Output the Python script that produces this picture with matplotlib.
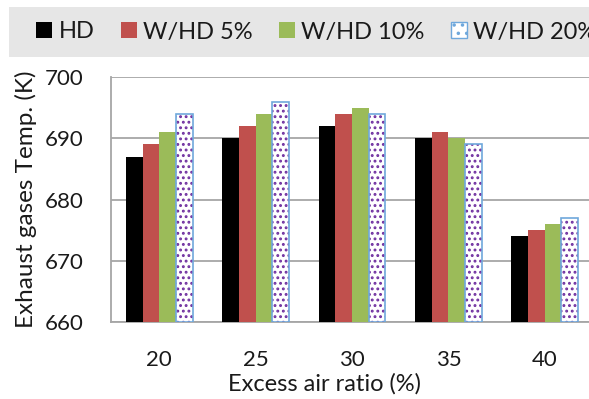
import matplotlib.pyplot as plt
from matplotlib.patches import Rectangle
import numpy as np

plt.rcParams['font.family'] = ['Lato', 'DejaVu Sans']
plt.rcParams['hatch.linewidth'] = 1.3

ratios = ["20", "25", "30", "35", "40"]
series = ["HD", "W/HD 5%", "W/HD 10%", "W/HD 20%"]
hd = [687, 690, 692, 690, 674]
whd5 = [689, 692, 694, 691, 675]
whd10 = [691, 694, 695, 690, 676]
whd20 = [694, 696, 694, 689, 677]

fig = plt.figure(figsize=(5.89, 3.99), dpi=100)
ax = fig.add_axes([111 / 589, 1 - 322 / 399, 482 / 589, 245 / 399])

x = np.arange(len(ratios))
w = 0.173
base = 660

ax.bar(x - 1.5 * w, np.array(hd) - base, w, bottom=base, color="#000000",
       zorder=3, label=series[0])
ax.bar(x - 0.5 * w, np.array(whd5) - base, w, bottom=base, color="#c0504d",
       zorder=3, label=series[1])
ax.bar(x + 0.5 * w, np.array(whd10) - base, w, bottom=base, color="#9bbb59",
       zorder=3, label=series[2])
# dotted bars: purple dots on white, light blue outline drawn separately
ax.bar(x + 1.5 * w, np.array(whd20) - base, w, bottom=base, color="white",
       edgecolor="#7030a0", hatch="...", linewidth=0, zorder=3)
ax.bar(x + 1.5 * w, np.array(whd20) - base, w, bottom=base, fill=False,
       edgecolor="#6fa8dc", linewidth=1.2, zorder=4)

ax.set_xlim(-0.5, 4.5)
ax.set_ylim(660, 700)
ax.set_yticks([660, 670, 680, 690, 700])
ax.set_xticks(x, ratios)
ax.yaxis.grid(True, color="#a6a6a6", linewidth=1.3, zorder=0)
ax.set_axisbelow(True)
for side in ["top", "right"]:
    ax.spines[side].set_visible(False)
for side in ["left", "bottom"]:
    ax.spines[side].set_color("#a6a6a6")
    ax.spines[side].set_linewidth(1.3)
ax.tick_params(axis="both", length=0, labelsize=16, colors="#1a1a1a")
ax.tick_params(axis="y", pad=20)
ax.tick_params(axis="x", pad=20)
ax.set_xlabel("Excess air ratio (%)", fontsize=17, color="#1a1a1a")
ax.set_ylabel("Exhaust gases Temp. (K)", fontsize=17.5, color="#1a1a1a")
ax.xaxis.set_label_coords((324 - 111) / 482, (322 - 373) / 245)
ax.yaxis.set_label_coords((37 - 111) / 482, 0.5)

# grey legend band along the top
fig.patches.append(Rectangle((9 / 589, 1 - 57 / 399), 1, 50 / 399,
                             transform=fig.transFigure, facecolor="#e6e6e6",
                             edgecolor="none", zorder=0))
handles = [
    Rectangle((0, 0), 1, 1, facecolor="#000000"),
    Rectangle((0, 0), 1, 1, facecolor="#c0504d"),
    Rectangle((0, 0), 1, 1, facecolor="#9bbb59"),
    Rectangle((0, 0), 1, 1, facecolor="white", edgecolor="#6fa8dc",
              hatch="..", linewidth=1),
]
fig.legend(handles, series, loc="center left",
           bbox_to_anchor=(36 / 589, 1 - 32 / 399), ncol=4, frameon=False,
           fontsize=17, labelcolor="#1a1a1a", handlelength=0.68,
           handleheight=0.68, handletextpad=0.28, columnspacing=1.1,
           borderpad=0, borderaxespad=0)

fig.savefig("out.png", dpi=100)
